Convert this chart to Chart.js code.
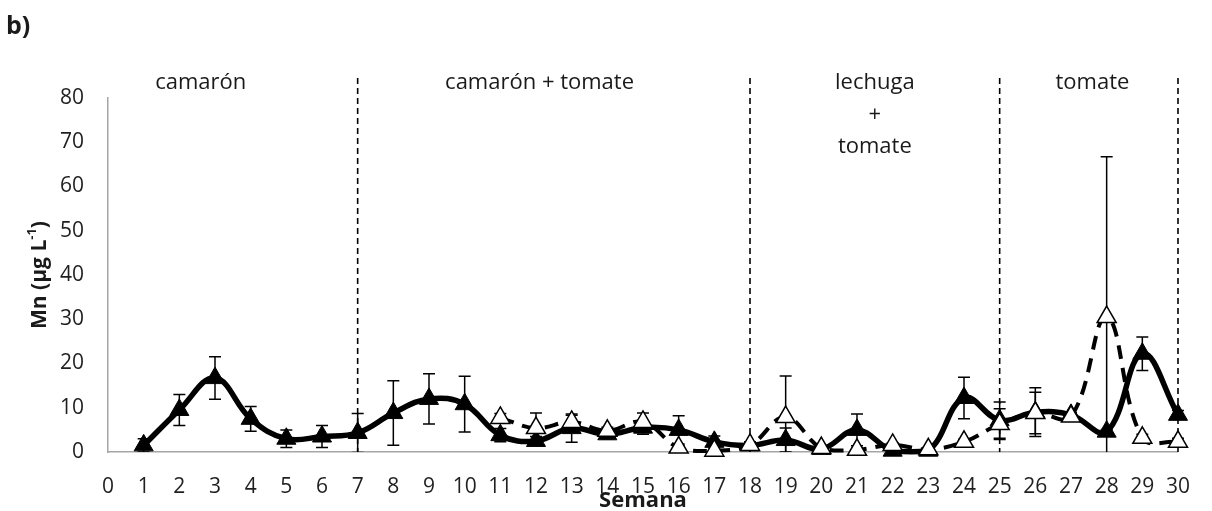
<!DOCTYPE html>
<html>
<head>
<meta charset="utf-8">
<script src="https://cdn.jsdelivr.net/npm/chart.js@4.4.0/dist/chart.umd.min.js"></script>
<style>
  html, body { margin: 0; padding: 0; background: #fff; }
  #wrap { width: 1212px; height: 511px; position: relative; }
</style>
</head>
<body>
<div id="wrap"><canvas id="c" width="1212" height="511"></canvas></div>
<script>
// Mn concentration by week (µg L-1), two systems with standard deviations
const weeks = [1,2,3,4,5,6,7,8,9,10,11,12,13,14,15,16,17,18,19,20,21,22,23,24,25,26,27,28,29,30];
const mnSolid    = [1.5,9.5,16.7,7.5,3.0,3.5,4.3,8.8,12.0,10.8,3.8,2.5,5.4,4.0,5.5,5.0,2.3,1.5,2.7,0.7,5.0,0.3,0.3,12.2,7.2,9.0,8.4,4.6,22.2,8.4];
const mnSolidSd  = [1.5,3.5,4.8,2.8,2.0,2.5,4.4,7.3,5.7,6.3,1.5,1.0,3.2,1.0,1.5,3.2,1.3,0.8,2.7,0.5,3.6,0.3,0.3,4.7,4.1,5.5,0.5,0.5,3.8,1.0];

const weeksOpen  = [11,12,13,14,15,16,17,18,19,20,21,22,23,24,25,26,27,28,29,30];
const mnOpen     = [7.7,5.4,6.8,4.8,6.8,1.0,0.3,1.6,7.9,0.9,0.5,1.6,0.6,2.3,6.3,8.8,8.0,30.5,3.2,2.3];
const mnOpenSd   = [1.0,3.4,1.5,0.8,2.0,0.5,0.3,0.5,9.3,0.5,0.4,0.5,0.4,0.6,3.5,4.7,0.8,36.2,0.8,0.8];

// Phase boundaries (week) and phase names
const phaseBounds = [7, 18, 25, 30];
const phaseNames  = [["camarón"], ["camarón + tomate"], ["lechuga", "+", "tomate"], ["tomate"]];
const phaseNameWeeks = [2.6, 12.1, 21.5, 27.6];

const xTickMin = 0, xTickMax = 30, xTickStep = 1;
const yTickMin = 0, yTickMax = 80, yTickStep = 10;

const FONT = "'Open Sans', 'Liberation Sans', sans-serif";
Chart.defaults.font.family = FONT;

const toPoints = (xs, ys) => xs.map((w, i) => ({ x: w, y: ys[i] }));

const decor = {
  id: 'decor',
  beforeDatasetsDraw(chart) {
    const { ctx, chartArea: a, scales: { x, y } } = chart;
    // phase dividers
    ctx.save();
    ctx.strokeStyle = '#000';
    ctx.lineWidth = 1.6;
    ctx.setLineDash([6, 4]);
    phaseBounds.forEach(w => {
      const px = x.getPixelForValue(w);
      ctx.beginPath();
      ctx.moveTo(px, 78);
      ctx.lineTo(px, a.bottom);
      ctx.stroke();
    });
    ctx.restore();

    // error bars
    ctx.save();
    ctx.beginPath();
    ctx.rect(a.left - 20, 0, a.width + 40, a.bottom);
    ctx.clip();
    ctx.strokeStyle = '#000';
    ctx.lineWidth = 1.5;
    const bars = (xs, ys, sd) => xs.forEach((w, i) => {
      const px = x.getPixelForValue(w);
      const top = y.getPixelForValue(ys[i] + sd[i]);
      const bot = y.getPixelForValue(ys[i] - sd[i]);
      ctx.beginPath();
      ctx.moveTo(px, top); ctx.lineTo(px, bot);
      ctx.moveTo(px - 6, top); ctx.lineTo(px + 6, top);
      ctx.moveTo(px - 6, bot); ctx.lineTo(px + 6, bot);
      ctx.stroke();
    });
    bars(weeks, mnSolid, mnSolidSd);
    bars(weeksOpen, mnOpen, mnOpenSd);
    ctx.restore();
  },
  afterDraw(chart) {
    const { ctx, chartArea: a, scales: { x } } = chart;
    ctx.save();
    ctx.fillStyle = '#1a1a1a';
    ctx.textBaseline = 'middle';

    // panel tag
    ctx.font = `bold 25px ${FONT}`;
    ctx.textAlign = 'left';
    ctx.fillText('b)', 6, 27);

    // phase names
    ctx.font = `22px ${FONT}`;
    ctx.textAlign = 'center';
    phaseNames.forEach((lines, k) => {
      const px = x.getPixelForValue(phaseNameWeeks[k]);
      lines.forEach((t, j) => ctx.fillText(t, px, 83 + j * 32));
    });

    // x axis title
    ctx.font = `bold 22px ${FONT}`;
    ctx.fillText('Semana', (a.left + a.right) / 2, 501);

    // y axis title with superscript
    ctx.translate(40, (a.top + a.bottom) / 2);
    ctx.rotate(-Math.PI / 2);
    const main = `bold 21px ${FONT}`, sup = `bold 13px ${FONT}`;
    ctx.font = main; const w1 = ctx.measureText('Mn (µg L').width; const w3 = ctx.measureText(')').width;
    ctx.font = sup;  const w2 = ctx.measureText('-1').width;
    let cx = -(w1 + w2 + w3) / 2;
    ctx.textAlign = 'left';
    ctx.font = main; ctx.fillText('Mn (µg L', cx, 0); cx += w1;
    ctx.font = sup;  ctx.fillText('-1', cx, -8); cx += w2;
    ctx.font = main; ctx.fillText(')', cx, 0);
    ctx.restore();
  }
};

new Chart(document.getElementById('c'), {
  type: 'line',
  data: {
    datasets: [
      {
        data: toPoints(weeksOpen, mnOpen),
        borderColor: '#000',
        borderWidth: 4,
        borderDash: [14, 9],
        tension: 0.4,
        pointStyle: 'triangle',
        pointRadius: 11,
        pointBackgroundColor: '#fff',
        pointBorderColor: '#000',
        pointBorderWidth: 1.5,
        clip: false,
        order: 0
      },
      {
        data: toPoints(weeks, mnSolid),
        borderColor: '#000',
        borderWidth: 5.5,
        tension: 0.4,
        pointStyle: 'triangle',
        pointRadius: 11,
        pointBackgroundColor: '#000',
        pointBorderColor: '#000',
        pointBorderWidth: 1,
        clip: false,
        order: 1
      }
    ]
  },
  options: {
    responsive: false,
    animation: false,
    devicePixelRatio: 1,
    layout: { padding: { top: 98, right: 21, left: 0, bottom: 0 } },
    plugins: { legend: { display: false }, tooltip: { enabled: false } },
    scales: {
      x: {
        type: 'linear',
        min: xTickMin, max: xTickMax,
        ticks: { stepSize: xTickStep, color: '#1f1f1f', font: { size: 21 }, padding: 22, maxRotation: 0, autoSkip: false },
        grid: { display: false, drawTicks: false },
        border: { display: true, color: '#a6a6a6', width: 1.5 },
        afterFit: s => { s.height = 59; }
      },
      y: {
        min: yTickMin, max: yTickMax,
        ticks: { stepSize: yTickStep, color: '#1f1f1f', font: { size: 21 }, padding: 24 },
        grid: { display: false, drawTicks: false },
        border: { display: true, color: '#a6a6a6', width: 1.5 },
        afterFit: s => { s.width = 108; }
      }
    }
  },
  plugins: [decor]
});
</script>
</body>
</html>
